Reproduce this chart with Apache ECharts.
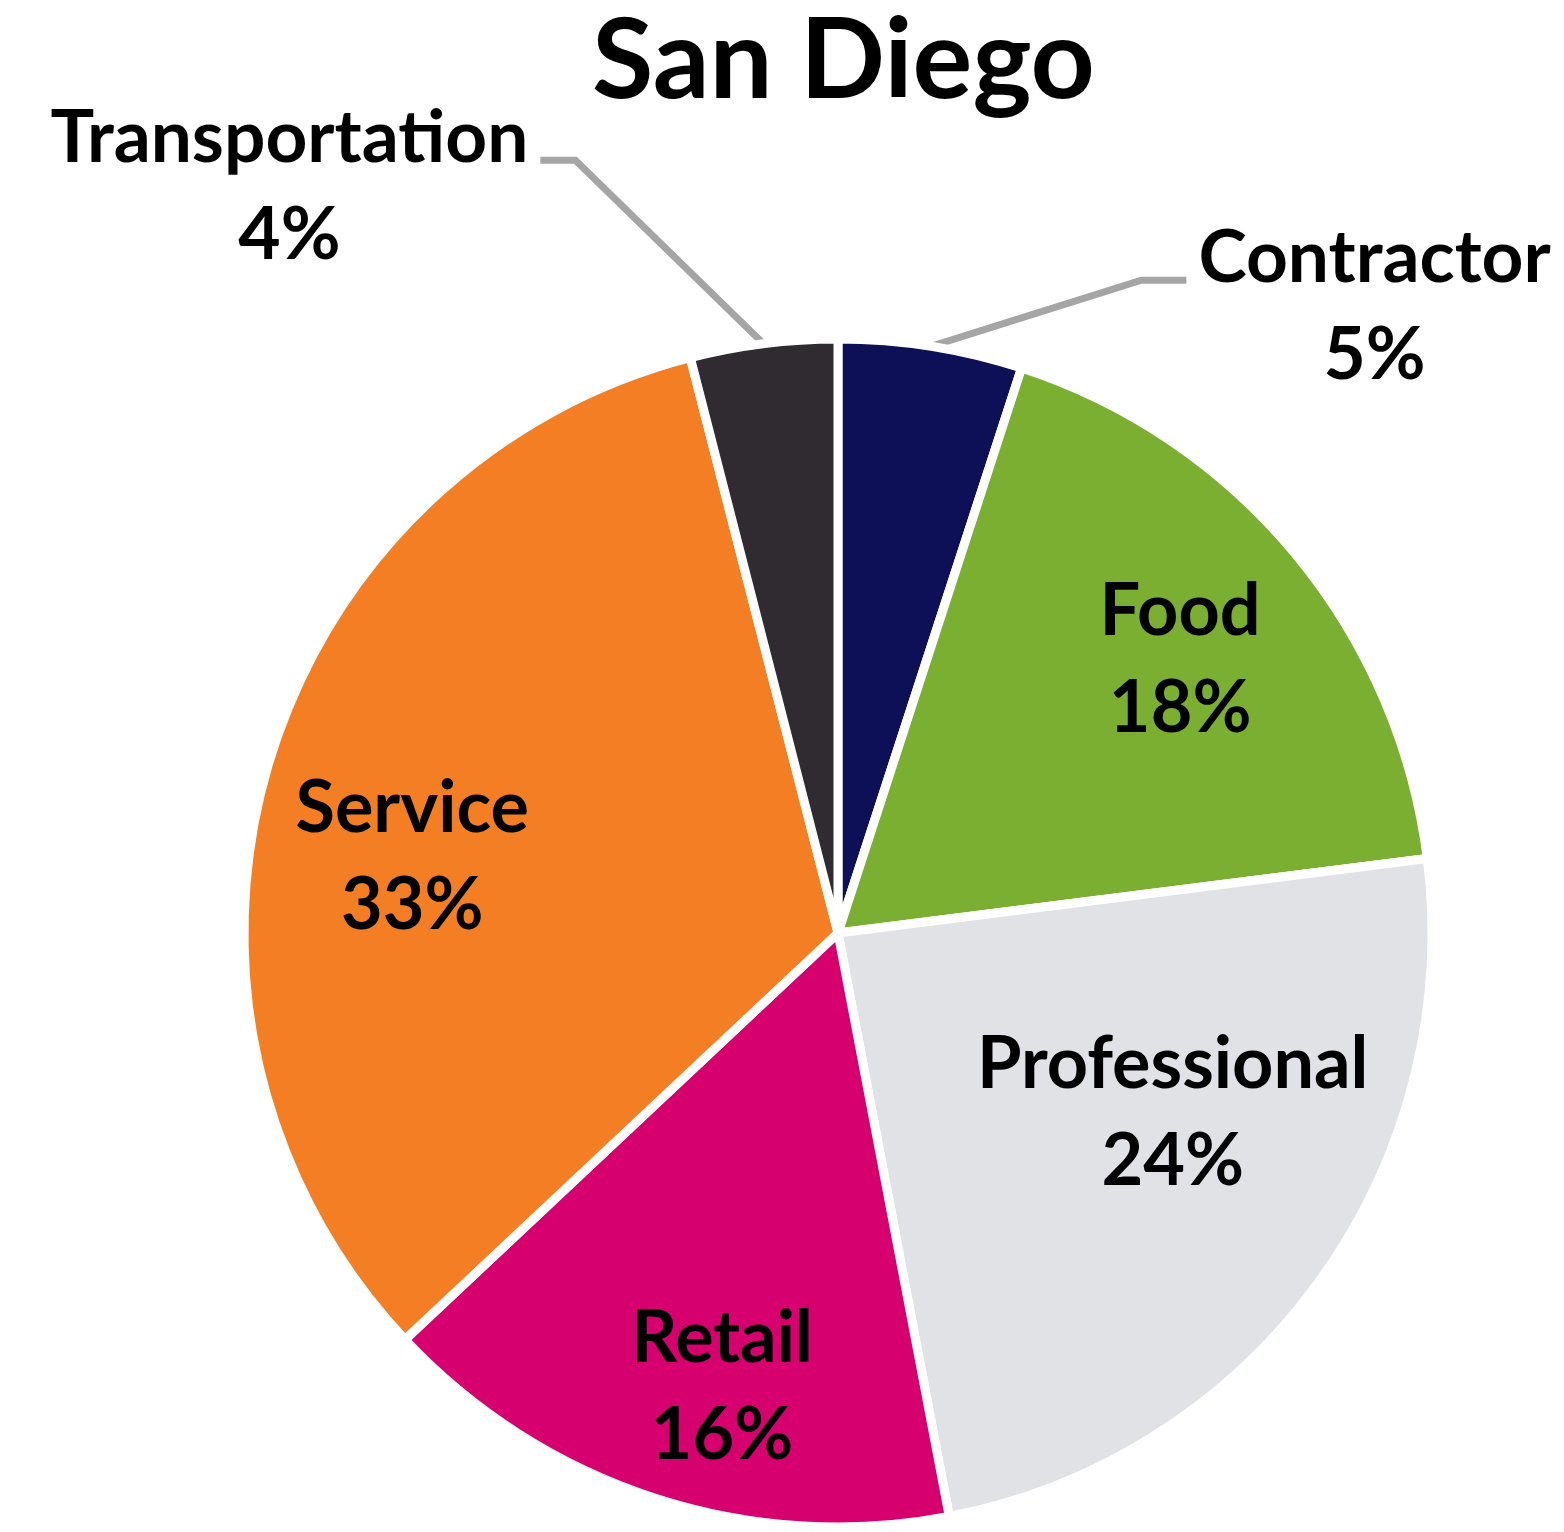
<!DOCTYPE html>
<html><head><meta charset="utf-8">
<script src="https://cdn.jsdelivr.net/npm/echarts@6/dist/echarts.min.js"></script>
<style>html,body{margin:0;padding:0;background:#fff}#c{width:1564px;height:1532px}</style>
</head><body><div id="c"></div>
<script>
const chartTitle = 'San Diego';
const categories = ['Contractor', 'Food', 'Professional', 'Retail', 'Service', 'Transportation'];
const shares = [5, 18, 24, 16, 33, 4];
const colors = ['#0D0F57', '#7BAF31', '#E1E2E6', '#D6006F', '#F47E24', '#2F2B30'];

const CX = 838, CY = 933, R = 594;
const FONT = 'Lato';
// inside label placement: [radius fraction, angular nudge in degrees]
const insidePlacement = {1: [0.737, 1], 2: [0.64, -7.7], 3: [0.79, -3.7], 4: [0.728, -6.1]};
// outside label leader lines
const outsideLine = {0: {length: 67, length2: 245, bend: -45}, 5: {length: 185, length2: 200, bend: 35}};
const LEADER = {stroke: '#A5A5A5', lineWidth: 7};

const chart = echarts.init(document.getElementById('c'), null, {renderer: 'canvas'});

const data = categories.map((name, i) => {
  const item = {name: name, value: shares[i], itemStyle: {color: colors[i]}};
  if (outsideLine[i]) {
    item.label = {
      position: 'outside',
      distanceToLabelLine: 12,
      padding: [53, 0, 0, 0],
      fontSize: 73,
      formatter: '{o|{b}}\n{o|{d}%}'
    };
    item.labelLine = {
      show: true,
      length: outsideLine[i].length,
      length2: outsideLine[i].length2,
      lineStyle: {color: LEADER.stroke, width: LEADER.lineWidth}
    };
  }
  return item;
});

chart.setOption({
  animation: false,
  backgroundColor: '#ffffff',
  title: {
    text: chartTitle,
    left: 592,
    top: 6,
    padding: 0,
    textStyle: {fontFamily: FONT, fontWeight: 'bold', fontSize: 112, color: '#000'}
  },
  series: [{
    type: 'pie',
    center: [CX, CY],
    radius: R,
    startAngle: 90,
    clockwise: true,
    avoidLabelOverlap: false,
    emphasis: {disabled: true},
    itemStyle: {borderColor: '#ffffff', borderWidth: 9},
    label: {
      show: true,
      position: 'inside',
      formatter: '{n|{b}}\n{n|{d}%}',
      color: '#000',
      fontFamily: FONT,
      fontWeight: 'bold',
      fontSize: 72,
      lineHeight: 97,
      rich: {
        n: {align: 'center', color: '#000', fontFamily: FONT, fontWeight: 'bold', fontSize: 72, lineHeight: 97},
        o: {align: 'center', color: '#000', fontFamily: FONT, fontWeight: 'bold', fontSize: 73, lineHeight: 97}
      }
    },
    labelLine: {show: false, lineStyle: {color: LEADER.stroke, width: LEADER.lineWidth}},
    labelLayout: function (p) {
      const i = p.dataIndex;
      if (insidePlacement[i]) {
        const lr = p.labelRect;
        const mx = lr.x + lr.width / 2 - CX, my = lr.y + lr.height / 2 - CY;
        const a = Math.atan2(mx, -my) + insidePlacement[i][1] * Math.PI / 180;
        const rr = R * insidePlacement[i][0];
        return {x: CX + rr * Math.sin(a), y: CY - rr * Math.cos(a), align: 'center', verticalAlign: 'middle'};
      }
      if (outsideLine[i] && p.labelLinePoints) {
        const pts = p.labelLinePoints;
        const end = pts[pts.length - 1];
        return {labelLinePoints: [pts[0], [end[0] + outsideLine[i].bend, end[1]], end]};
      }
      return {};
    },
    data: data
  }]
});
chart.on('finished', function () {});
</script>
</body></html>
